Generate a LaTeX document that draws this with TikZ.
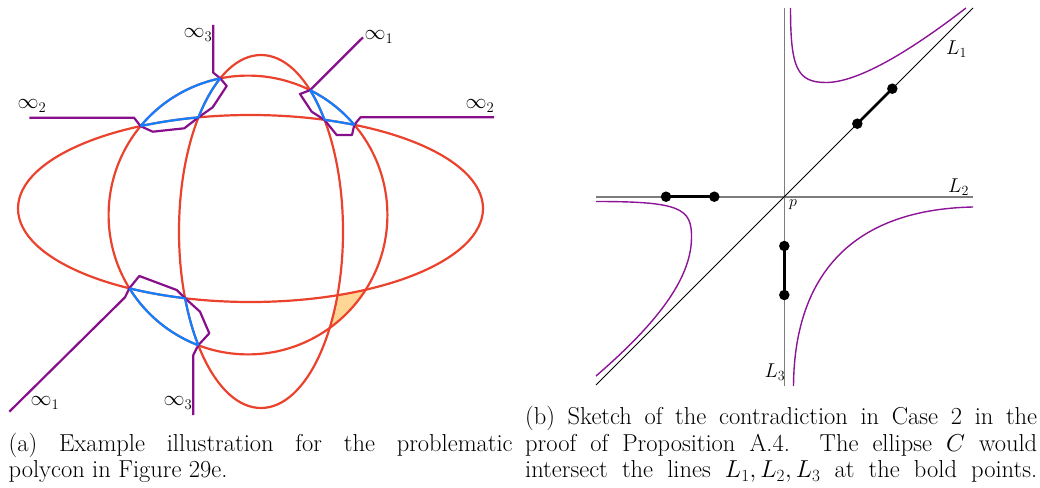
\RequirePackage{fix-cm}
\documentclass[tikz,border=0pt]{standalone}
\usetikzlibrary{calc}
\definecolor{ered}{RGB}{234,66,44}
\definecolor{eblue}{RGB}{16,128,255}
\definecolor{epurple}{RGB}{135,15,140}
\definecolor{efill}{RGB}{255,214,150}
\definecolor{lgray}{RGB}{125,125,125}
\definecolor{hpurple}{RGB}{140,20,150}
\newcommand\capfont{\fontsize{24.5}{26.7}\selectfont}
\begin{document}
\begin{tikzpicture}[x=1pt,y=-1pt,
  redc/.style={draw=ered,line width=2.2pt},
  bluec/.style={draw=eblue,line width=2.2pt},
  purp/.style={draw=epurple,line width=2.2pt,line join=round},
  axisline/.style={draw=lgray,line width=1.6pt},
  diagline/.style={draw=black,line width=0.8pt},
  hyp/.style={draw=hpurple,line width=1.4pt},
  boldseg/.style={draw=black,line width=2.6pt},
  dotnode/.style={circle,fill=black,inner sep=0pt,minimum size=10.5pt},
  inflab/.style={inner sep=0pt,font=\fontsize{21}{24}\selectfont},
  llab/.style={inner sep=0pt,font=\fontsize{20}{23}\selectfont},
  plab/.style={inner sep=0pt,font=\fontsize{16}{18}\selectfont},
  caption/.style={inner sep=0pt,anchor=base west,font=\capfont}]
\useasboundingbox (0,0) rectangle (1040,487);
% ---------- (a) ----------
\coordinate (cA) at (250.5,208.5);
\coordinate (cB) at (248,215);
\coordinate (cC) at (261,231.5);
% shaded cell
\fill[efill] ($(cC)+(21.15:82 and 176.5)$)
  arc[start angle=21.15,end angle=33.1,x radius=82,y radius=176.5]
  arc[start angle=54.1,end angle=32.4,radius=139.4]
  arc[start angle=60.3,end angle=68,x radius=232.5,y radius=93.5] -- cycle;
% red curves
\draw[redc] (cA) ellipse[x radius=232.5,y radius=93.5];
\draw[redc] (cB) circle[radius=139.4];
\draw[redc] (cC) ellipse[x radius=82,y radius=176.5];
% vertices
\coordinate (ab1) at ($(cB)+(219.6:139.4)$);
\coordinate (ac1) at ($(cC)+(220.3:82 and 176.5)$);
\coordinate (bc1) at ($(cC)+(240.2:82 and 176.5)$);
\coordinate (bc2) at ($(cC)+(306.8:82 and 176.5)$);
\coordinate (ac2) at ($(cC)+(320.8:82 and 176.5)$);
\coordinate (ab2) at ($(cB)+(319.7:139.4)$);
\coordinate (ab3) at ($(cB)+(148.3:139.4)$);
\coordinate (ac3) at ($(cC)+(157.8:82 and 176.5)$);
\coordinate (bc3) at ($(cC)+(139.9:82 and 176.5)$);
% purple polylines
\draw[purp] (29.3,117.7) -- (134,117.7) -- (ab1) -- (152.7,131.7) -- (184.3,128.3) -- (ac1)
  -- (212.7,107.3) -- (226.7,86) -- (bc1) -- (213.3,72.7) -- (213.3,25);
\draw[purp] (363,37.3) -- (bc2) -- (300,94) -- (311.7,111.7) -- (ac2) -- (336.7,135)
  -- (352,135) -- (ab2) -- (360.5,117.3) -- (494,117.3);
\draw[purp] (9.3,411.7) -- (125,297.3) -- (ab3) -- (139.3,276) -- (176.7,290) -- (ac3)
  -- (200,311.7) -- (209.3,333.3) -- (bc3) -- (193.3,355) -- (193.3,415);
% blue cells
\draw[bluec] (ab1) arc[start angle=219.6,end angle=258.5,radius=139.4];
\draw[bluec] ($(cA)+(241.8:232.5 and 93.5)$) arc[start angle=241.8,end angle=257.1,x radius=232.5,y radius=93.5];
\draw[bluec] (ac1) arc[start angle=220.3,end angle=240.2,x radius=82,y radius=176.5];
\draw[bluec] ($(cB)+(296.45:139.4)$) arc[start angle=296.45,end angle=319.7,radius=139.4];
\draw[bluec] (bc2) arc[start angle=306.8,end angle=320.8,x radius=82,y radius=176.5];
\draw[bluec] ($(cA)+(288.6:232.5 and 93.5)$) arc[start angle=288.6,end angle=296.6,x radius=232.5,y radius=93.5];
\draw[bluec] ($(cB)+(110.9:139.4)$) arc[start angle=110.9,end angle=148.3,radius=139.4];
\draw[bluec] ($(cA)+(106.3:232.5 and 93.5)$) arc[start angle=106.3,end angle=121.3,x radius=232.5,y radius=93.5];
\draw[bluec] (bc3) arc[start angle=139.9,end angle=157.8,x radius=82,y radius=176.5];
% labels
\node[inflab] (i3t) at (198,35) {$\infty_3$};
\node[inflab] (i2l) at (32,106) {$\infty_2$};
\node[inflab] (i1t) at (379,37) {$\infty_1$};
\node[inflab] (i2r) at (480,106) {$\infty_2$};
\node[inflab] (i1b) at (45,403) {$\infty_1$};
\node[inflab] (i3b) at (178,403) {$\infty_3$};
% ---------- (b) ----------
\coordinate (p) at (784.3,196.7);
\coordinate (l3t) at (784.3,8);
\coordinate (l3b) at (784.3,386);
\coordinate (l2l) at (596,196.7);
\coordinate (l2r) at (973,196.7);
\coordinate (l1b) at (596,385);
\coordinate (l1t) at (973,8);
\draw[axisline] (l3t) -- (l3b);
\draw[axisline] (l2l) -- (l2r);
\draw[diagline] (l1b) -- (l1t);
% conic branches
\draw[hyp] (790.5,8) .. controls (790.5,68) and (797,82.5) .. (826,82.5)
  .. controls (856,82.5) and (905,55) .. (966,8);
\draw[hyp] (793.5,386) .. controls (794,300) and (830,210) .. (973,207);
\draw[hyp] (596,201.5) .. controls (680,201.5) and (692,208) .. (691.5,238)
  .. controls (691,280) and (655,325) .. (596,376);
% bold points
\node[dotnode] (d1) at (666,196.7) {};
\node[dotnode] (d2) at (714.3,196.7) {};
\node[dotnode] (d3) at (857.3,123.7) {};
\node[dotnode] (d4) at (892.3,88.7) {};
\node[dotnode] (d5) at (784.3,246) {};
\node[dotnode] (d6) at (784.3,295) {};
\draw[boldseg] (d1.center) -- (d2.center);
\draw[boldseg] (d3.center) -- (d4.center);
\draw[boldseg] (d5.center) -- (d6.center);
\node[llab] (lab1) at (956.5,49) {$L_1$};
\node[llab] (lab2) at (958.5,187.5) {$L_2$};
\node[llab] (lab3) at (775,372.5) {$L_3$};
\node[plab] (labp) at (793,204.5) {$p$};
% ---------- captions ----------
\node[caption] (capa) at (8.5,451) {\parbox[t]{504pt}{(a) Example illustration for the problematic\linebreak polycon in Figure 29e.}};
\node[caption] (capb) at (525,424.5) {\parbox[t]{512pt}{\parfillskip=0pt (b) Sketch of the contradiction in Case 2 in the\linebreak proof of Proposition A.4. The ellipse $C$ would\linebreak intersect the lines $L_1, L_2, L_3$ at the bold points.}};
\end{tikzpicture}
\end{document}
